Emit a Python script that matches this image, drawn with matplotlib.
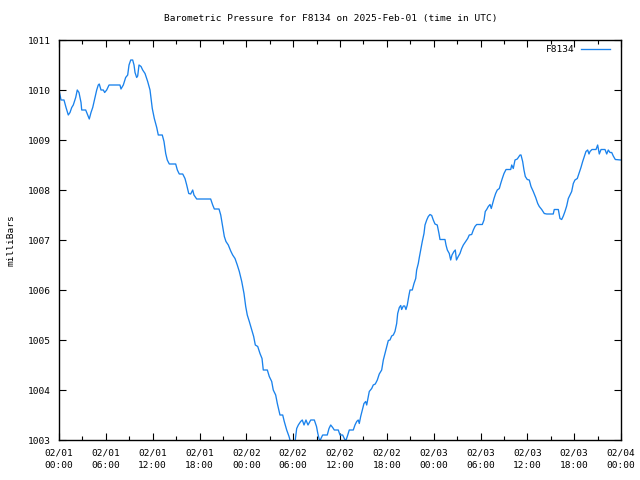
import matplotlib
matplotlib.use("Agg")
import matplotlib.pyplot as plt
from matplotlib.ticker import MultipleLocator

# hours since 2025-02-01 00:00 UTC
hours = [0, 0.26, 0.64, 0.90, 1.19, 1.41, 1.63, 1.83, 2.14, 2.34, 2.56, 2.82, 2.91, 3.42, 3.68, 3.88,
         4.10, 4.32, 4.61, 4.83, 5.03, 5.16, 5.38, 5.68, 5.85, 6.11, 6.41, 7.81, 7.94, 8.24, 8.54, 8.80,
         8.97, 9.19, 9.44, 9.61, 9.74, 9.95, 10.08, 10.25, 10.51, 10.72, 11.02, 11.36, 11.66, 11.95, 12.21,
         12.52, 12.72, 13.23, 13.45, 13.67, 13.87, 14.13, 14.95, 15.16, 15.41, 15.85, 16.14, 16.36, 16.62,
         16.87, 17.13, 17.29, 17.64, 19.43, 19.69, 19.90, 20.50, 20.72, 20.97, 21.18, 21.39, 21.69, 22.00,
         22.25, 22.55, 22.84, 23.10, 23.41, 23.70, 23.92, 24.12, 24.38, 24.69, 24.94, 25.15, 25.46, 25.75,
         26.01, 26.17, 26.69, 26.94, 27.25, 27.45, 27.76, 27.97, 28.31, 28.66, 28.86, 29.17, 29.47, 29.68,
         29.98, 30.23, 30.45, 30.66, 30.96, 31.17, 31.39, 31.64, 31.90, 32.25, 32.71, 32.99, 33.16, 33.31,
         33.44, 33.56, 33.78, 34.37, 34.59, 34.81, 35.06, 35.27, 35.78, 36.00, 36.34, 36.55, 36.73, 36.93,
         37.19, 37.70, 37.92, 38.14, 38.34, 38.47, 38.65, 38.86, 39.07, 39.29, 39.42, 39.62, 39.75, 40.06,
         40.26, 40.52, 40.78, 41.03, 41.34, 41.55, 41.76, 41.98, 42.19, 42.40, 42.62, 42.83, 43.04, 43.26,
         43.39, 43.60, 43.78, 43.90, 44.11, 44.29, 44.45, 44.62, 44.84, 44.97, 45.26, 45.48, 45.70, 45.82,
         46.03, 46.16, 46.34, 46.54, 46.76, 46.89, 47.11, 47.31, 47.53, 47.75, 47.95, 48.17, 48.46, 48.68,
         48.81, 49.45, 49.58, 49.75, 50.00, 50.18, 50.35, 50.60, 50.77, 50.92, 51.15, 51.37, 51.59, 51.80,
         52.10, 52.36, 52.56, 52.87, 53.08, 53.29, 53.51, 54.23, 54.45, 54.61, 54.79, 55.00, 55.22, 55.38,
         55.56, 55.73, 55.94, 56.15, 56.41, 56.59, 56.79, 57.01, 57.27, 57.87, 58.00, 58.20, 58.42, 58.71,
         59.06, 59.19, 59.40, 59.57, 59.74, 59.99, 60.25, 60.47, 60.76, 61.07, 61.33, 61.53, 61.84, 62.17,
         62.48, 63.32, 63.45, 63.97, 64.18, 64.40, 64.61, 64.82, 65.04, 65.25, 65.46, 65.68, 65.89, 66.10,
         66.40, 66.66, 66.87, 67.09, 67.30, 67.51, 67.73, 67.90, 68.03, 68.28, 68.80, 69.01, 69.22, 69.44,
         69.95, 70.17, 70.37, 70.59, 70.81, 71.01, 71.27, 71.96]

pressure = [1010.0, 1009.8, 1009.8, 1009.65, 1009.5, 1009.55, 1009.65, 1009.7, 1009.85, 1010.0, 1009.95,
            1009.75, 1009.6, 1009.6, 1009.5, 1009.42, 1009.55, 1009.65, 1009.85, 1010.0, 1010.1, 1010.12,
            1010.0, 1010.0, 1009.95, 1010.0, 1010.1, 1010.1, 1010.02, 1010.1, 1010.25, 1010.3, 1010.5,
            1010.6, 1010.6, 1010.5, 1010.35, 1010.25, 1010.28, 1010.5, 1010.47, 1010.4, 1010.33, 1010.17,
            1010.0, 1009.63, 1009.43, 1009.25, 1009.1, 1009.1, 1008.97, 1008.73, 1008.6, 1008.52, 1008.52,
            1008.4, 1008.32, 1008.32, 1008.23, 1008.1, 1007.93, 1007.92, 1008.0, 1007.9, 1007.82, 1007.82,
            1007.7, 1007.62, 1007.62, 1007.5, 1007.27, 1007.07, 1006.97, 1006.9, 1006.78, 1006.7, 1006.63,
            1006.5, 1006.37, 1006.17, 1005.93, 1005.67, 1005.5, 1005.37, 1005.2, 1005.07, 1004.9, 1004.87,
            1004.73, 1004.63, 1004.4, 1004.4, 1004.27, 1004.17, 1004.0, 1003.9, 1003.73, 1003.5, 1003.5,
            1003.37, 1003.2, 1003.07, 1002.95, 1002.85, 1002.95, 1003.23, 1003.3, 1003.37, 1003.4, 1003.3,
            1003.4, 1003.3, 1003.4, 1003.4, 1003.27, 1003.13, 1003.03, 1002.98, 1003.03, 1003.1, 1003.1,
            1003.23, 1003.3, 1003.25, 1003.2, 1003.2, 1003.1, 1003.1, 1003.03, 1002.98, 1003.07, 1003.2,
            1003.2, 1003.3, 1003.37, 1003.4, 1003.33, 1003.47, 1003.6, 1003.73, 1003.77, 1003.7, 1003.87,
            1003.97, 1004.03, 1004.1, 1004.12, 1004.2, 1004.32, 1004.4, 1004.6, 1004.73, 1004.87, 1004.99,
            1005.0, 1005.08, 1005.1, 1005.17, 1005.33, 1005.53, 1005.65, 1005.69, 1005.61, 1005.68, 1005.68,
            1005.61, 1005.7, 1005.9, 1006.0, 1006.0, 1006.13, 1006.23, 1006.4, 1006.53, 1006.65, 1006.8,
            1006.97, 1007.13, 1007.3, 1007.4, 1007.47, 1007.51, 1007.49, 1007.4, 1007.32, 1007.3, 1007.13,
            1007.01, 1007.01, 1006.9, 1006.8, 1006.73, 1006.6, 1006.7, 1006.77, 1006.8, 1006.6, 1006.67,
            1006.73, 1006.83, 1006.9, 1006.97, 1007.03, 1007.1, 1007.11, 1007.2, 1007.27, 1007.31, 1007.31,
            1007.4, 1007.57, 1007.61, 1007.67, 1007.71, 1007.63, 1007.73, 1007.83, 1007.93, 1008.0, 1008.03,
            1008.13, 1008.23, 1008.33, 1008.41, 1008.41, 1008.5, 1008.43, 1008.6, 1008.62, 1008.7, 1008.7,
            1008.57, 1008.4, 1008.27, 1008.21, 1008.2, 1008.07, 1007.97, 1007.85, 1007.73, 1007.67, 1007.61,
            1007.53, 1007.52, 1007.52, 1007.61, 1007.61, 1007.43, 1007.41, 1007.48, 1007.57, 1007.68,
            1007.83, 1007.9, 1007.97, 1008.13, 1008.2, 1008.23, 1008.35, 1008.45, 1008.57, 1008.67, 1008.77,
            1008.8, 1008.72, 1008.77, 1008.81, 1008.81, 1008.9, 1008.72, 1008.81, 1008.81, 1008.72, 1008.8,
            1008.75, 1008.75, 1008.68, 1008.61, 1008.6]

xtick_hours = [0, 6, 12, 18, 24, 30, 36, 42, 48, 54, 60, 66, 72]
xtick_labels = ["02/01\n00:00", "02/01\n06:00", "02/01\n12:00", "02/01\n18:00",
                "02/02\n00:00", "02/02\n06:00", "02/02\n12:00", "02/02\n18:00",
                "02/03\n00:00", "02/03\n06:00", "02/03\n12:00", "02/03\n18:00",
                "02/04\n00:00"]
yticks = [1003, 1004, 1005, 1006, 1007, 1008, 1009, 1010, 1011]

plt.rcParams['font.family'] = ['DejaVu Sans Mono']
FS = 6.8

fig = plt.figure(figsize=(6.4, 4.8), dpi=100)
ax = fig.add_axes([59/640, 40/480, (621-59)/640, 400/480])

ax.plot(hours, pressure, color='#1a82ec', lw=0.95, label='F8134')
ax.set_xlim(0, 72)
ax.set_ylim(1003, 1011)
ax.set_xticks(xtick_hours)
ax.set_xticklabels(xtick_labels, fontsize=FS, linespacing=1.5)
ax.xaxis.set_minor_locator(MultipleLocator(3))
ax.set_yticks(yticks)
ax.set_yticklabels([str(v) for v in yticks], fontsize=FS)
ax.tick_params(which='major', direction='in', length=5, width=0.8, top=True, right=True, pad=6)
ax.tick_params(which='minor', direction='in', length=3, width=0.8, top=True, right=True)
for s in ax.spines.values():
    s.set_linewidth(1.0)

ax.set_ylabel('milliBars', fontsize=FS, labelpad=9)
fig.text(331/640, 1 - 19/480, 'Barometric Pressure for F8134 on 2025-Feb-01 (time in UTC)',
         ha='center', va='center', fontsize=FS)

leg = ax.legend(loc='upper right', bbox_to_anchor=(1 - 4/562, 1 + 1.5/400), frameon=False,
                fontsize=FS, markerfirst=False, handlelength=3.1, borderaxespad=0.3,
                handletextpad=0.7)

fig.savefig('out.png', dpi=100)
